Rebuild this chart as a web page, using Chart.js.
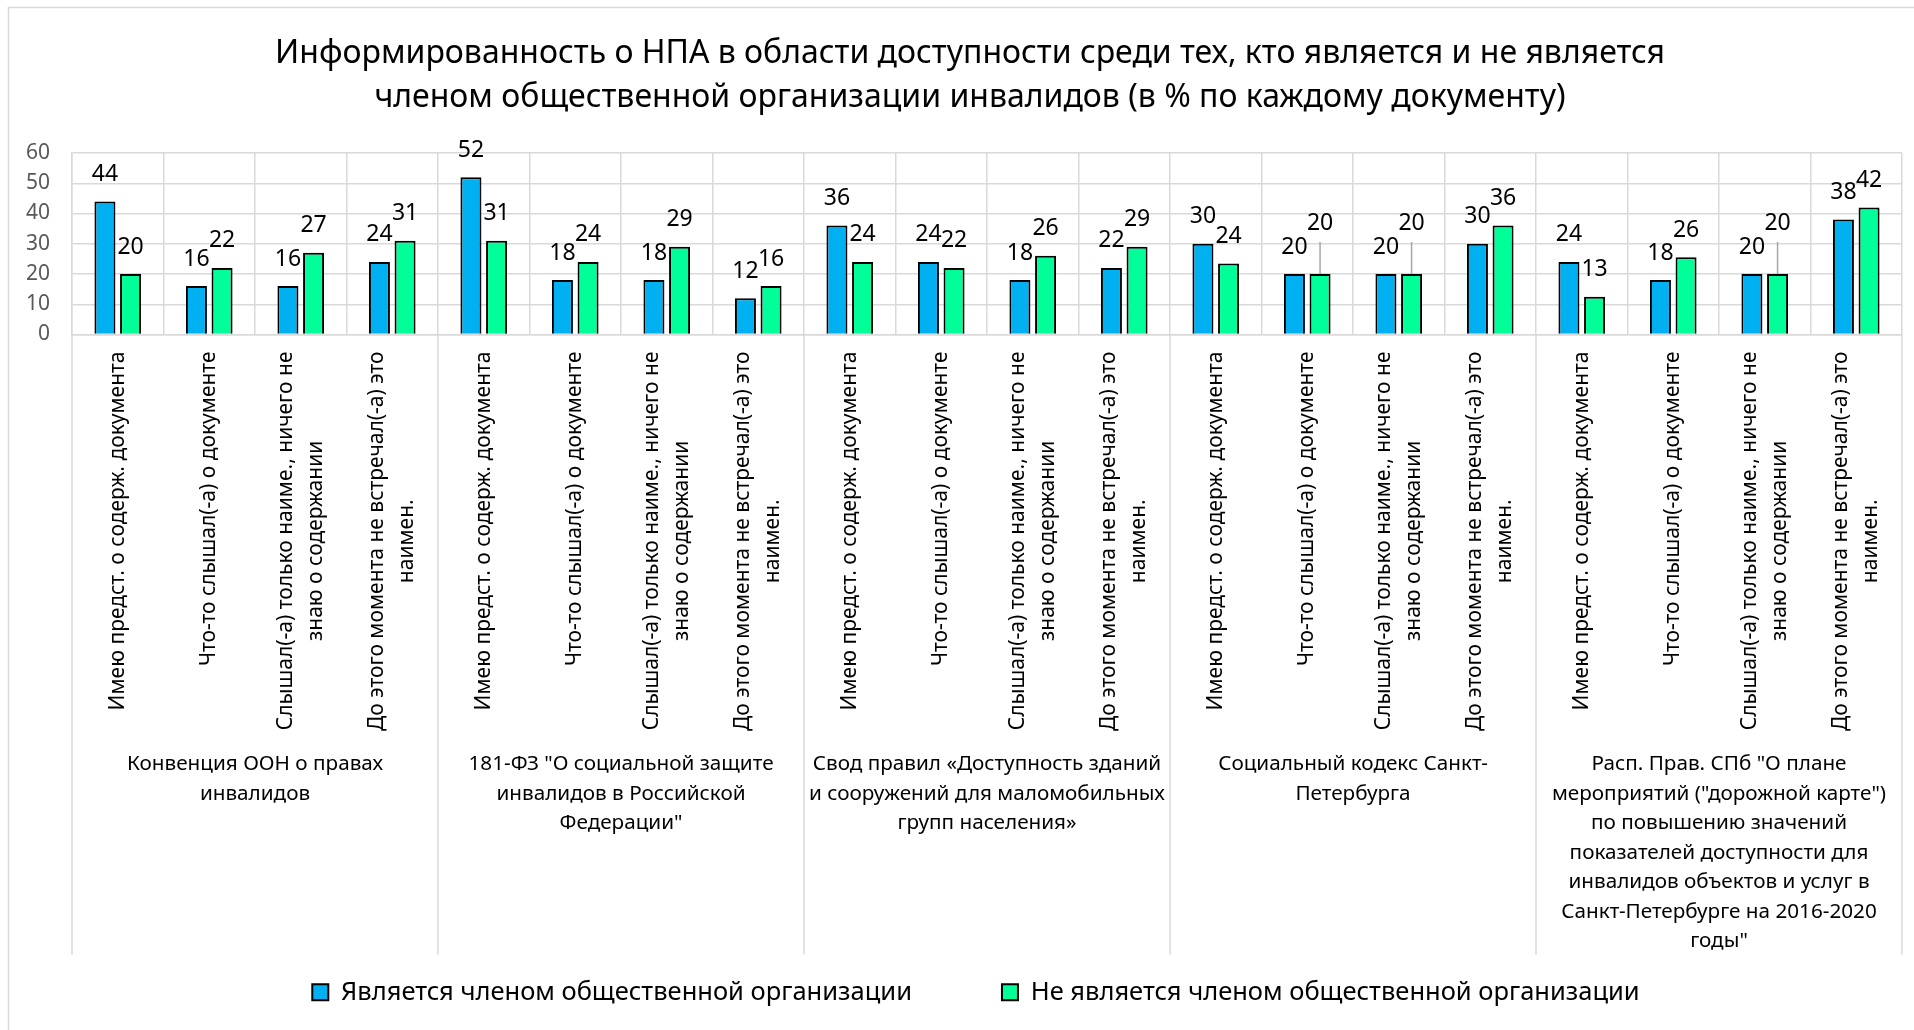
<!DOCTYPE html>
<html>
<head>
<meta charset="utf-8">
<script src="https://cdn.jsdelivr.net/npm/chart.js@4.4.0/dist/chart.umd.min.js"></script>
<style>
  html, body { margin: 0; padding: 0; background: #fff; }
  #wrap { width: 1914px; height: 1030px; }
</style>
</head>
<body>
<div id="wrap"><canvas id="chart"></canvas></div>
<script>
// documents (outer category level)
const documents = [
  ['Конвенция ООН о правах', 'инвалидов'],
  ['181-ФЗ "О социальной защите', 'инвалидов в Российской', 'Федерации"'],
  ['Свод правил «Доступность зданий', 'и сооружений для маломобильных', 'групп населения»'],
  ['Социальный кодекс Санкт-', 'Петербурга'],
  ['Расп. Прав. СПб "О плане', 'мероприятий ("дорожной карте")', 'по повышению значений',
   'показателей доступности для', 'инвалидов объектов и услуг в', 'Санкт-Петербурге на 2016-2020', 'годы"']
];
// answers (inner category level, repeated for every document)
const answers = [
  ['Имею предст. о содерж. документа'],
  ['Что-то слышал(-а) о документе'],
  ['Слышал(-а) только наиме., ничего не', 'знаю о содержании'],
  ['До этого момента не встречал(-а) это', 'наимен.']
];
const seriesNames = ['Является членом общественной организации', 'Не является членом общественной организации'];
const members    = [44, 16, 16, 24,  52, 18, 18, 12,  36, 24, 18, 22,  30, 20, 20, 30,  24, 18, 20, 38];
const nonMembers = [20, 22, 27, 31,  31, 24, 29, 16,  24, 22, 26, 29,  23.5, 20, 20, 36,  12.5, 25.5, 20, 42];

const labels = documents.flatMap(() => answers);
const FONT = '"Noto Sans", "Open Sans", sans-serif';
const GRID = '#d9d9d9';

// labels moved up with a leader line in the original
const lifted = { 1: [13, 14, 18] };

const frame = {
  id: 'frame',
  beforeDraw(chart) {
    const { ctx, width, height } = chart;
    ctx.save();
    ctx.fillStyle = '#fff';
    ctx.fillRect(0, 0, width, height);
    ctx.strokeStyle = GRID;
    ctx.lineWidth = 1.5;
    ctx.strokeRect(8.5, 7.5, width, height);
    ctx.restore();
  }
};

// title and legend are centred on the whole chart frame, not on the plot
const centerShift = {
  id: 'centerShift',
  afterLayout(chart) {
    chart.titleBlock.left += 14; chart.titleBlock.right += 14;
    chart.legend.left += 20; chart.legend.right += 20;
  }
};

const barValues = {
  id: 'barValues',
  afterDatasetsDraw(chart) {
    const { ctx } = chart;
    ctx.save();
    ctx.font = '23px ' + FONT;
    ctx.fillStyle = '#000';
    ctx.textAlign = 'center';
    ctx.textBaseline = 'middle';
    chart.data.datasets.forEach((ds, di) => {
      chart.getDatasetMeta(di).data.forEach((bar, i) => {
        const up = (lifted[di] || []).includes(i);
        if (up) {
          ctx.strokeStyle = '#a6a6a6';
          ctx.lineWidth = 1.5;
          ctx.beginPath();
          ctx.moveTo(bar.x, bar.y - 32);
          ctx.lineTo(bar.x, bar.y);
          ctx.stroke();
        }
        ctx.fillText(String(Math.round(ds.data[i])), bar.x, bar.y - (up ? 51 : 27));
      });
    });
    ctx.restore();
  }
};

const categoryAxis = {
  id: 'categoryAxis',
  afterDraw(chart) {
    const { ctx, chartArea, scales: { x } } = chart;
    const half = (x.getPixelForValue(1) - x.getPixelForValue(0)) / 2;
    ctx.save();
    ctx.fillStyle = '#000';
    ctx.textBaseline = 'middle';
    ctx.textAlign = 'center';

    // inner level: rotated answer labels
    ctx.font = '21px ' + FONT;
    labels.forEach((lines, i) => {
      const px = x.getPixelForValue(i);
      const w = Math.max(...lines.map(l => ctx.measureText(l).width));
      ctx.save();
      ctx.translate(px, chartArea.bottom + 17);
      ctx.rotate(-Math.PI / 2);
      lines.forEach((l, j) => ctx.fillText(l, -w / 2, (j - (lines.length - 1) / 2) * 30));
      ctx.restore();
    });

    // outer level: separators and document names
    ctx.strokeStyle = GRID;
    ctx.lineWidth = 1.5;
    const n = answers.length;
    for (let g = 0; g <= documents.length; g++) {
      const bx = g < documents.length ? x.getPixelForValue(g * n) - half : x.getPixelForValue(g * n - 1) + half;
      ctx.beginPath();
      ctx.moveTo(bx, chartArea.bottom);
      ctx.lineTo(bx, chartArea.bottom + 620);
      ctx.stroke();
    }
    ctx.font = '20.7px ' + FONT;
    documents.forEach((lines, g) => {
      const cx = (x.getPixelForValue(g * n) + x.getPixelForValue(g * n + n - 1)) / 2;
      lines.forEach((l, j) => ctx.fillText(l, cx, chartArea.bottom + 430 + j * 29.5));
    });
    ctx.restore();
  }
};

new Chart(document.getElementById('chart'), {
  type: 'bar',
  data: {
    labels: labels.map(l => l.join(' ')),
    datasets: [
      {
        label: seriesNames[0],
        data: members,
        backgroundColor: '#00b0f0',
        borderColor: '#000',
        borderWidth: 2,
        categoryPercentage: 0.56,
        barPercentage: 0.82
      },
      {
        label: seriesNames[1],
        data: nonMembers,
        backgroundColor: '#00ff99',
        borderColor: '#000',
        borderWidth: 2,
        categoryPercentage: 0.56,
        barPercentage: 0.82
      }
    ]
  },
  options: {
    responsive: true,
    maintainAspectRatio: false,
    animation: false,
    layout: { padding: { top: 0, left: 10, right: 12, bottom: 15 } },
    scales: {
      x: {
        grid: { color: GRID, lineWidth: 1.5, drawTicks: false, offset: true },
        border: { color: GRID, width: 1.5 },
        ticks: { display: false },
        afterFit: s => { s.height = 555; }
      },
      y: {
        min: 0,
        max: 60,
        grid: { color: GRID, lineWidth: 1.5, drawTicks: false },
        border: { color: GRID, width: 1.5 },
        ticks: { stepSize: 10, padding: 22, color: '#595959', font: { family: FONT, size: 21 } },
        afterFit: s => { s.width = 62; }
      }
    },
    plugins: {
      title: {
        display: true,
        text: ['Информированность о НПА в области доступности среди тех, кто является и не является',
               'членом общественной организации инвалидов (в % по каждому документу)'],
        color: '#000',
        font: { family: FONT, size: 32, weight: 'normal', lineHeight: 44 / 32 },
        padding: { top: 32, bottom: 33 }
      },
      legend: {
        position: 'bottom',
        labels: {
          boxWidth: 16,
          boxHeight: 16,
          padding: 90,
          color: '#000',
          font: { family: FONT, size: 25.5 }
        }
      },
      tooltip: { enabled: false }
    }
  },
  plugins: [frame, centerShift, barValues, categoryAxis]
});
</script>
</body>
</html>
